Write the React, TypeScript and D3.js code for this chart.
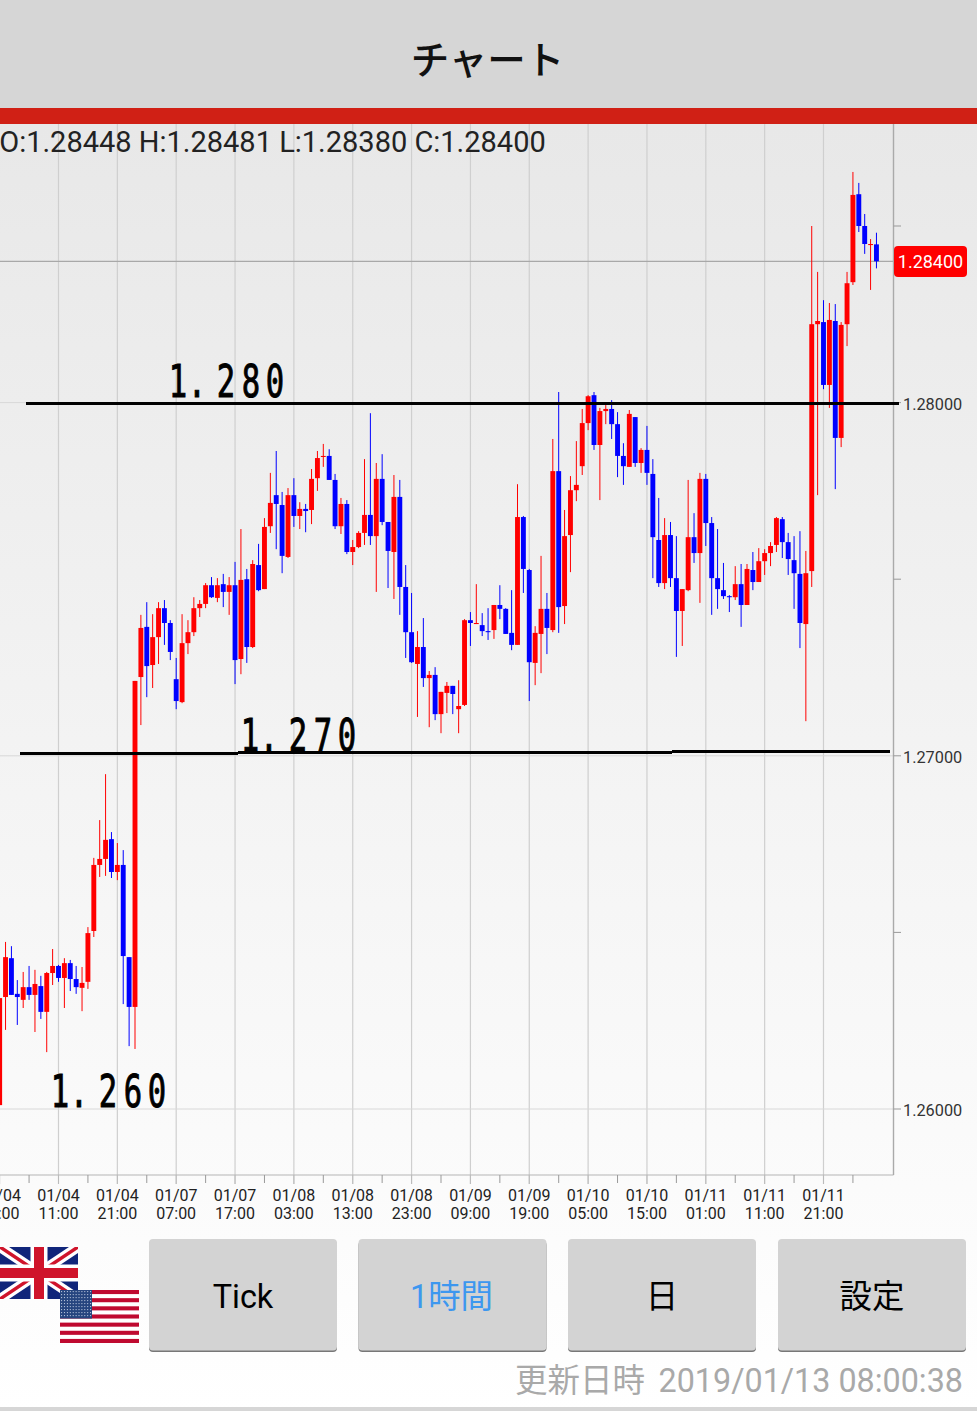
import React from "react";
import * as d3 from "d3";

// Prices are stored as points (0.00001) above the base price 1.26000. First candle is index -10.
const BASE_PRICE = 1.26;
const POINT = 0.00001;
const FIRST_INDEX = -10;

const opens = [11,317,427,326,309,345,323,348,275,385,405,371,413,368,343,360,504,691,708,764,671,691,430,289,1223,1365,1257,1336,1418,1376,1217,1152,1319,1350,1418,1430,1483,1447,1486,1464,1483,1274,1500,1308,1540,1472,1650,1738,1710,1563,1738,1679,1699,1696,1786,1846,1849,1781,1650,1713,1577,1591,1631,1682,1622,1784,1662,1577,1733,1478,1350,1260,1308,1220,1229,1118,1178,1198,1132,1144,1384,1373,1370,1353,1356,1427,1416,1348,1314,1676,1526,1263,1345,1416,1356,1806,1424,1625,1752,1820,1942,2021,1880,1976,1982,1939,1849,1818,1959,1829,1866,1798,1611,1489,1625,1503,1410,1469,1619,1574,1784,1659,1503,1469,1452,1449,1486,1427,1526,1492,1551,1574,1597,1670,1605,1554,1515,1373,1523,2222,2228,2050,2231,1900,2222,2341,2590,2500,2446,2448];
const highs = [314,473,461,365,388,405,394,377,388,453,408,427,422,405,402,515,711,818,948,784,753,733,430,1212,1399,1435,1401,1435,1441,1384,1277,1401,1384,1449,1441,1489,1506,1503,1515,1506,1549,1642,1529,1554,1600,1673,1801,1863,1747,1758,1786,1718,1713,1812,1863,1883,1868,1798,1730,1724,1611,1636,1840,1970,1829,1854,1662,1795,1781,1540,1461,1353,1390,1240,1251,1181,1209,1198,1214,1387,1407,1486,1404,1418,1427,1483,1418,1469,1769,1679,1529,1367,1566,1461,1897,2030,1696,1792,1891,1982,2021,2030,1985,1993,2007,1973,1885,1979,1959,1871,1934,1840,1730,1673,1662,1622,1472,1781,1687,1801,1798,1676,1642,1546,1455,1537,1543,1543,1577,1588,1585,1605,1676,1676,1631,1622,1636,1580,2500,2370,2290,2282,2279,2228,2370,2653,2622,2534,2463,2481];
const lows = [11,224,323,238,286,309,218,255,161,351,360,286,334,326,277,340,487,657,660,654,648,297,178,170,1087,1166,1192,1260,1314,1271,1132,1149,1288,1339,1393,1418,1447,1435,1421,1399,1203,1231,1263,1305,1466,1472,1631,1585,1517,1560,1648,1642,1633,1656,1750,1818,1781,1642,1628,1571,1540,1588,1597,1597,1464,1653,1475,1444,1399,1277,1263,1110,1195,1081,1101,1064,1121,1118,1064,1141,1311,1373,1339,1328,1331,1387,1345,1299,1314,1461,1155,1200,1234,1288,1350,1348,1373,1520,1721,1795,1922,1866,1724,1939,1897,1789,1767,1818,1818,1801,1767,1503,1478,1472,1478,1280,1311,1466,1546,1433,1594,1399,1416,1444,1407,1441,1365,1427,1469,1492,1512,1537,1577,1560,1512,1416,1305,1098,1478,1738,2038,1985,1755,1874,2160,2333,2483,2421,2319,2380];
const closes = [314,430,323,317,345,323,354,275,385,405,371,413,368,345,357,498,691,708,762,671,691,433,289,1212,1362,1254,1336,1418,1376,1294,1155,1319,1350,1418,1430,1483,1449,1483,1464,1483,1271,1498,1308,1543,1469,1648,1716,1713,1566,1738,1679,1699,1693,1784,1843,1849,1781,1650,1713,1577,1591,1631,1682,1622,1784,1662,1580,1733,1478,1350,1265,1308,1220,1229,1118,1181,1198,1175,1141,1384,1376,1376,1353,1350,1427,1416,1345,1314,1676,1529,1265,1348,1416,1362,1806,1421,1622,1752,1767,1942,2018,1880,1976,1982,1939,1849,1820,1968,1829,1866,1801,1619,1489,1625,1503,1410,1472,1619,1574,1784,1659,1503,1472,1452,1449,1486,1427,1529,1492,1551,1574,1594,1673,1605,1557,1517,1376,1517,2222,2231,2050,2234,1900,2220,2338,2588,2500,2449,2449,2400];

const PRICE_TICKS = [1.26, 1.27, 1.28];
const MINOR_PRICE_TICKS = [1.265, 1.275, 1.285];
const CURRENT_PRICE = 1.284;

const tickDates = ["01/04","01/04","01/04","01/07","01/07","01/08","01/08","01/08","01/09","01/09","01/10","01/10","01/11","01/11","01/11"];
const tickTimes = ["01:00","11:00","21:00","07:00","17:00","03:00","13:00","23:00","09:00","19:00","05:00","15:00","01:00","11:00","21:00"];

const annotationLabels = ["1.280", "1.270", "1.260"];

const buttons = [
  { label: "Tick", color: "#000", font: "Roboto", dx: 0 },
  { label: "1時間", color: "#3d97ef", font: "Roboto, 'Noto Sans CJK JP'", dx: -1 },
  { label: "日", color: "#000", font: "'Noto Sans CJK JP'", dx: 0 },
  { label: "設定", color: "#000", font: "'Noto Sans CJK JP'", dx: 0 },
];

const W = 977;
const H = 1411;
const TOP = 124;
const BOTTOM = 1175;
const RIGHT = 893.5;
const CJK = "'Noto Sans CJK JP'";

const x = d3.scaleLinear().domain([0, 130]).range([58.5, 823.5]);
const y = d3.scaleLinear().domain([1.26, 1.285]).range([1109, 226]);
const py = (pts: number) => y(BASE_PRICE + pts * POINT);

const candles = opens.map((o, k) => ({
  i: k + FIRST_INDEX,
  o,
  h: highs[k],
  l: lows[k],
  c: closes[k],
}));

const gridIdx = d3.range(0, 14).map((k) => k * 10);
const minorIdx = d3.range(-5, 140, 10);
const labelIdx = d3.range(-10, 140, 10);

const GlyphOffsets = [0, 19, 48, 73, 97];
const annotationX: Record<string, number> = { "1.280": 178, "1.270": 250, "1.260": 60 };
const annotationBaseline: Record<string, number> = { "1.280": 397, "1.270": 751, "1.260": 1107 };

function HandLabel({ text }: { text: string }) {
  const x0 = annotationX[text];
  const b = annotationBaseline[text];
  return (
    <g>
      {text.split("").map((ch, k) => (
        <text
          key={k}
          transform={`translate(${x0 + GlyphOffsets[k]},${b}) scale(0.68,1)`}
          textAnchor="middle"
          fontFamily="'DejaVu Sans Mono'"
          fontSize={45}
          fill="#000"
          stroke="#000"
          strokeWidth={1}
        >
          {ch}
        </text>
      ))}
    </g>
  );
}

function UKFlag() {
  return (
    <g>
      <clipPath id="uk">
        <rect x={0} y={1247} width={78} height={52} />
      </clipPath>
      <g clipPath="url(#uk)">
        <rect x={0} y={1247} width={78} height={52} fill="#10257a" />
        <path d="M0 1247L78 1299M78 1247L0 1299" stroke="#fff" strokeWidth={10} />
        <path d="M0 1247L78 1299M78 1247L0 1299" stroke="#cf142b" strokeWidth={3.5} />
        <path d="M39 1247V1299M0 1273H78" stroke="#fff" strokeWidth={17} />
        <path d="M39 1247V1299M0 1273H78" stroke="#cf142b" strokeWidth={10} />
      </g>
    </g>
  );
}

function USFlag() {
  const x0 = 60;
  const y0 = 1290;
  const w = 79;
  const h = 53;
  const sh = h / 13;
  return (
    <g>
      <rect x={x0} y={y0} width={w} height={h} fill="#fff" />
      {d3.range(0, 13, 2).map((k) => (
        <rect key={k} x={x0} y={y0 + k * sh} width={w} height={sh} fill="#bf0a30" />
      ))}
      <rect x={x0} y={y0} width={32} height={sh * 7} fill="#26457f" />
      {d3.range(0, 9).map((r) =>
        d3.range(0, 11).map((c) => (
          <circle
            key={`${r}-${c}`}
            cx={x0 + 1.6 + c * 2.9}
            cy={y0 + 1.6 + r * 3}
            r={0.6}
            fill="#c9d3e6"
          />
        ))
      )}
    </g>
  );
}

export default function App() {
  const btnX = [149, 358.5, 568, 778];
  return (
    <svg
      width={W}
      height={H}
      viewBox={`0 0 ${W} ${H}`}
      style={{ position: "fixed", left: 0, top: 0, display: "block" }}
    >
      <defs>
        <linearGradient id="bg" x1="0" y1="0" x2="0" y2="1">
          <stop offset="0" stopColor="#e8e8e8" />
          <stop offset="1" stopColor="#ffffff" />
        </linearGradient>
        <clipPath id="plot">
          <rect x={0} y={TOP} width={RIGHT} height={BOTTOM - TOP} />
        </clipPath>
      </defs>

      <rect x={0} y={TOP} width={W} height={H - TOP} fill="url(#bg)" />
      <rect x={0} y={1407} width={W} height={4} fill="#d6d6d6" />

      {/* grid */}
      {gridIdx.map((i) => (
        <line key={i} x1={x(i)} x2={x(i)} y1={TOP} y2={1184} stroke="#cfcfcf" strokeWidth={1.2} />
      ))}
      {PRICE_TICKS.map((p) => (
        <line key={p} x1={0} x2={RIGHT} y1={y(p)} y2={y(p)} stroke="#d8d8d8" strokeWidth={1} />
      ))}

      {/* axes */}
      <line x1={0} x2={RIGHT} y1={BOTTOM} y2={BOTTOM} stroke="#b5b5b5" strokeWidth={1} />
      <line x1={RIGHT} x2={RIGHT} y1={TOP} y2={BOTTOM} stroke="#aaa" strokeWidth={1.4} />
      {minorIdx.map((i) => (
        <line key={i} x1={x(i)} x2={x(i)} y1={BOTTOM} y2={1183} stroke="#999" strokeWidth={1} />
      ))}
      {labelIdx.map((i) => (
        <line key={i} x1={x(i)} x2={x(i)} y1={BOTTOM} y2={1184} stroke="#bbb" strokeWidth={1} />
      ))}
      {[...PRICE_TICKS, ...MINOR_PRICE_TICKS].map((p) => (
        <line key={p} x1={RIGHT} x2={901} y1={y(p)} y2={y(p)} stroke="#999" strokeWidth={1} />
      ))}

      {/* current price line */}
      <line x1={0} x2={RIGHT} y1={y(CURRENT_PRICE)} y2={y(CURRENT_PRICE)} stroke="#a8a8a8" strokeWidth={1.2} />

      {/* candles */}
      <g clipPath="url(#plot)">
        {candles.map((d) => {
          const col = d.c >= d.o ? "#ff0000" : "#0000ff";
          const top = py(Math.max(d.o, d.c));
          const bot = py(Math.min(d.o, d.c));
          return (
            <g key={d.i}>
              <line x1={x(d.i)} x2={x(d.i)} y1={py(d.h)} y2={py(d.l)} stroke={col} strokeWidth={1} />
              <rect
                x={x(d.i) - 2.45}
                y={top}
                width={4.9}
                height={Math.max(bot - top, 1)}
                fill={col}
              />
            </g>
          );
        })}
      </g>

      {/* hand-drawn lines */}
      <line x1={26} x2={899} y1={403.5} y2={403.5} stroke="#000" strokeWidth={3} />
      <line x1={20} x2={238} y1={753.5} y2={753.5} stroke="#000" strokeWidth={3} />
      <line x1={238} x2={672} y1={752.5} y2={752.5} stroke="#000" strokeWidth={3} />
      <line x1={672} x2={890} y1={751.5} y2={751.5} stroke="#000" strokeWidth={3} />
      {annotationLabels.map((a) => (
        <HandLabel key={a} text={a} />
      ))}

      {/* y tick labels */}
      {PRICE_TICKS.map((p) => (
        <text key={p} x={903} y={y(p) + 7} fontFamily="Roboto" fontSize={16.3} fill="#333">
          {d3.format(".5f")(p)}
        </text>
      ))}

      {/* x tick labels */}
      {labelIdx.map((i, k) => (
        <g key={i} fontFamily="Roboto" fontSize={16} fill="#222" textAnchor="middle">
          <text x={x(i)} y={1200.5}>{tickDates[k]}</text>
          <text x={x(i)} y={1219}>{tickTimes[k]}</text>
        </g>
      ))}

      {/* current price tag */}
      <rect x={894} y={246} width={73} height={31} rx={4} fill="#ff0000" />
      <text x={930.5} y={267.5} textAnchor="middle" fontFamily="Roboto" fontSize={18} fill="#fff">
        {d3.format(".5f")(CURRENT_PRICE)}
      </text>

      {/* header */}
      <rect x={0} y={0} width={W} height={108} fill="#d6d6d6" />
      <rect x={0} y={108} width={W} height={16} fill="#d02015" />
      <text x={487.5} y={74} textAnchor="middle" fontFamily={CJK} fontSize={38.5} fontWeight={500} fill="#111">
        チャート
      </text>
      <text x={-0.8} y={152} fontFamily="Roboto" fontSize={29} fill="#222">
        O:1.28448 H:1.28481 L:1.28380 C:1.28400
      </text>

      {/* bottom bar */}
      <UKFlag />
      <USFlag />
      {buttons.map((b, k) => (
        <g key={b.label}>
          <rect x={btnX[k]} y={1241} width={188} height={111} rx={4} fill="#777" />
          <rect x={btnX[k]} y={1239} width={188} height={111.5} rx={4} fill="#d3d3d3" />
          <text
            x={btnX[k] + 94 + b.dx}
            y={1308}
            textAnchor="middle"
            fontFamily={b.font}
            fontSize={32.4}
            fill={b.color}
          >
            {b.label}
          </text>
        </g>
      ))}
      <text x={515} y={1392} fontFamily={CJK} fontSize={32.5} fill="#a9a9a9">
        更新日時
      </text>
      <text x={963} y={1392} textAnchor="end" fontFamily="Roboto" fontSize={32.3} fill="#a9a9a9">
        2019/01/13 08:00:38
      </text>
    </svg>
  );
}
